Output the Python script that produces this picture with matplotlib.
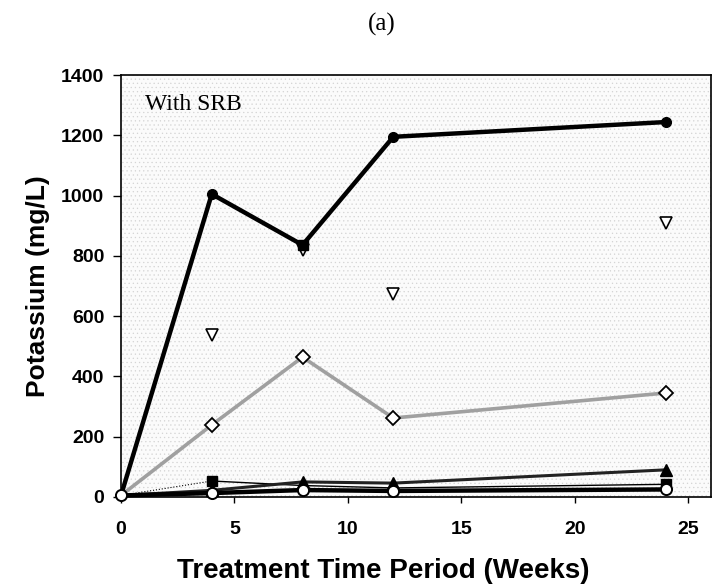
import matplotlib
matplotlib.use("Agg")
import matplotlib.pyplot as plt
from matplotlib.patches import Rectangle

# weeks of treatment
weeks = [0, 4, 8, 12, 24]

# potassium (mg/L)
k_filled_circle = [5, 1005, 836, 1195, 1244]
k_open_diamond = [5, 239, 464, 262, 345]
k_open_tri_down = [537, 819, 673, 909]
tri_weeks = [4, 8, 12, 24]
k_filled_square = [5, 53, 38, 30, 42]
k_filled_tri_up = [5, 22, 50, 46, 90]
k_open_circle = [5, 13, 23, 20, 25]

plt.rcParams['hatch.linewidth'] = 0.4

fig = plt.figure(figsize=(7.13, 5.88), dpi=100)
ax = fig.add_axes([0.1697, 0.1548, 0.8275, 0.7176])

# stippled plot background
ax.add_patch(Rectangle((0, 0), 1, 1, transform=ax.transAxes, facecolor='#fbfbfb',
                       edgecolor='#d4d4d4', hatch='....', lw=0, zorder=0))

ax.plot(weeks, k_filled_circle, color='black', lw=3.2, marker='o', ms=7,
        mfc='black', mec='black', zorder=5)
ax.plot([8], [k_filled_circle[2]], ls='none', marker='s', ms=7, color='black', zorder=6)
ax.plot(weeks, k_open_diamond, color='#a0a0a0', lw=2.6, marker='D', ms=7.5,
        mfc='white', mec='black', mew=1.3, zorder=4)
ax.plot(tri_weeks, k_open_tri_down, ls='none', marker='v', ms=9,
        mfc='white', mec='black', mew=1.2, zorder=4)
ax.plot(weeks[:2], k_filled_square[:2], color='black', lw=0.8, ls=':', zorder=3)
ax.plot(weeks[1:], k_filled_square[1:], color='black', lw=1.0, marker='s', ms=7,
        mfc='black', mec='black', zorder=3, markevery=[0, 3])
ax.plot(weeks, k_filled_tri_up, color='#222222', lw=2.2, marker='^', ms=8,
        mfc='black', mec='black', zorder=3)
ax.plot(weeks, k_open_circle, color='black', lw=3.2, marker='o', ms=8,
        mfc='white', mec='black', mew=1.4, zorder=6, clip_on=False)

ax.set_xlim(0, 26)
ax.set_ylim(0, 1400)
ax.set_xticks([0, 5, 10, 15, 20, 25])
ax.set_yticks(range(0, 1401, 200))

sans = ['Liberation Sans', 'DejaVu Sans']
serif = ['Liberation Serif', 'DejaVu Serif']
ax.tick_params(axis='y', direction='out', length=6, width=1, pad=6)
ax.tick_params(axis='x', direction='out', length=4, width=1, pad=13)
for lab in ax.get_xticklabels() + ax.get_yticklabels():
    lab.set_family(sans)
    lab.set_fontweight('bold')
    lab.set_fontsize(14)

for sp in ax.spines.values():
    sp.set_color('black')
    sp.set_linewidth(1.2)

ax.set_xlabel('Treatment Time Period (Weeks)', family=sans, fontweight='bold',
              fontsize=20)
ax.xaxis.set_label_coords(0.444, -0.145)
ax.set_ylabel('Potassium (mg/L)', family=sans, fontweight='bold',
              fontsize=19, labelpad=8)

ax.text(0.04, 0.93, 'With SRB', transform=ax.transAxes, family=serif,
        fontsize=17, va='center', ha='left')
fig.text(0.535, 0.958, '(a)', family=serif, fontsize=18, ha='center', va='center')

fig.savefig('out.png', dpi=100)
